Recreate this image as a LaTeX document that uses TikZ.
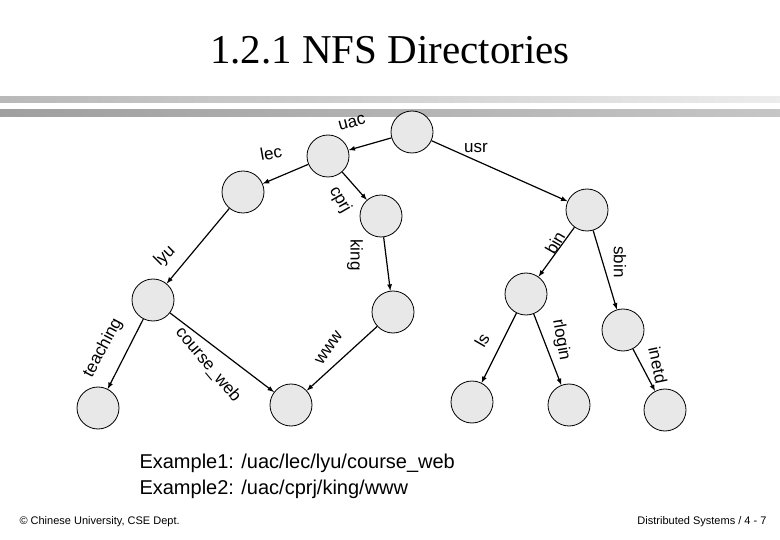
\documentclass[tikz,border=0pt]{standalone}
\usepackage{fontspec}
\setmainfont{Liberation Sans}
\newfontfamily\titlefont{Liberation Serif}
\begin{document}
\begin{tikzpicture}[x=1pt,y=-1pt,
    dir/.style={circle, draw, thick, fill=gray!18, minimum size=42pt, inner sep=0pt},
    lbl/.style={font=\fontsize{17}{17}\selectfont, inner sep=0pt},
    link/.style={->, >=latex, very thick}]
        \useasboundingbox (0,0) rectangle (780,540);
        % header
        \node[font=\titlefont\fontsize{41}{41}\selectfont] (title) at (390,50) {1.2.1 NFS Directories};
        \shade[left color=gray!55, right color=gray!15] (0,97) rectangle (780,103);
        \shade[left color=gray!75, right color=gray!45] (0,110) rectangle (780,117);

        % Nodes
        \node[dir] at (412,132) (root)   {};
        \node[dir] at (328,156) (uac)    {};
        \node[dir] at (243,192) (lec)    {};
        \node[dir] at (381,216) (cprj)   {};
        \node[dir] at (587,210) (usr)    {};
        \node[dir] at (153,300) (lyu)    {};
        \node[dir] at (393,312) (king)   {};
        \node[dir] at (526,294) (bin)    {};
        \node[dir] at (623,330) (sbin)   {};
        \node[dir] at (98,408)  (teach)  {};
        \node[dir] at (291,405) (web)    {};
        \node[dir] at (472,402) (ls)     {};
        \node[dir] at (569,405) (rlogin) {};
        \node[dir] at (665,410) (inetd)  {};

        \draw[link] (root) -- (uac);
        \draw[link] (root) -- (usr);
        \draw[link] (uac) -- (lec);
        \draw[link] (uac) -- (cprj);
        \draw[link] (lec) -- (lyu);
        \draw[link] (cprj) -- (king);
        \draw[link] (lyu) -- (teach);
        \draw[link] (lyu) -- (web);
        \draw[link] (king) -- (web);
        \draw[link] (usr) -- (bin);
        \draw[link] (usr) -- (sbin);
        \draw[link] (bin) -- (ls);
        \draw[link] (bin) -- (rlogin);
        \draw[link] (sbin) -- (inetd);

        % edge names
        \node[lbl, rotate=15]  at (352,123) {uac};
        \node[lbl, rotate=10]  at (271,153) {lec};
        \node[lbl]             at (476,148) {usr};
        \node[lbl, rotate=-60] at (340,200) {cprj};
        \node[lbl, rotate=45]  at (165,256) {lyu};
        \node[lbl, rotate=-90] at (355,255) {king};
        \node[lbl, rotate=60]  at (555,243) {bin};
        \node[lbl, rotate=-90] at (620,262) {sbin};
        \node[lbl, rotate=62]  at (103,348) {teaching};
        \node[lbl, rotate=-50] at (208,365) {course\_web};
        \node[lbl, rotate=55]  at (329,348) {www};
        \node[lbl, rotate=60]  at (482,340) {ls};
        \node[lbl, rotate=-80] at (561,340) {rlogin};
        \node[lbl, rotate=-78] at (658,365) {inetd};

        % text
        \node[font=\fontsize{20}{26}\selectfont, align=left, anchor=north west] (ex) at (136,450)
            {Example1: /uac/lec/lyu/course\_web\\Example2: /uac/cprj/king/www};
        \node[font=\fontsize{11}{11}\selectfont, anchor=west] (copy) at (16,522) {\textcopyright{} Chinese University, CSE Dept.};
        \node[font=\fontsize{11}{11}\selectfont, anchor=east] (page) at (770,522) {Distributed Systems / 4 - 7};
    \end{tikzpicture}
\end{document}
